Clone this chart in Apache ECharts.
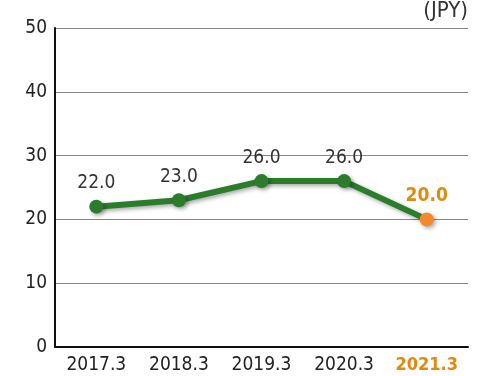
<!DOCTYPE html>
<html><head><meta charset="utf-8">
<script src="https://cdn.jsdelivr.net/npm/echarts@6/dist/echarts.min.js"></script>
<style>html,body{margin:0;padding:0;background:#fff}#c{width:480px;height:376px}</style>
</head><body><div id="c"></div>
<script>
const categories = ['2017.3','2018.3','2019.3','2020.3','2021.3'];
const values = [22.0, 23.0, 26.0, 26.0, 20.0];
const unitLabel = '(JPY)';
const FONT = "'DejaVu Sans Condensed', sans-serif";
const GREEN = '#2b7d2b', ORANGE = '#f5892d', ORANGE_TXT = '#e08a10';
const last = values.length - 1;
const chart = echarts.init(document.getElementById('c'));
chart.setOption({
  animation: false,
  grid: {left: 55, right: 12, top: 28, bottom: 29, containLabel: false},
  graphic: [{type: 'text', right: 12, top: 0, style: {text: unitLabel, font: '22px ' + FONT, fill: '#333'}}],
  xAxis: {
    type: 'category', data: categories, boundaryGap: true,
    axisLine: {lineStyle: {color: '#111', width: 2}},
    axisTick: {show: false},
    axisLabel: {interval: 0, margin: 9, fontSize: 19, fontFamily: FONT, color: '#222',
      formatter: (v, i) => i === last ? '{hl|' + v + '}' : v,
      rich: {hl: {color: ORANGE_TXT, fontWeight: 'bold', fontSize: 18, fontFamily: FONT}}}
  },
  yAxis: {
    type: 'value', min: 0, max: 50, interval: 10,
    axisLine: {show: true, lineStyle: {color: '#111', width: 2}},
    axisTick: {show: false},
    splitLine: {lineStyle: {color: '#888', width: 1}},
    axisLabel: {margin: 8, fontSize: 19, fontFamily: FONT, color: '#222'}
  },
  series: [{
    type: 'line', data: values.map((v, i) => i === last ? {value: v, itemStyle: {color: ORANGE}, label: {color: ORANGE_TXT, fontWeight: 'bold'}} : v),
    symbol: 'circle', symbolSize: 14,
    lineStyle: {color: GREEN, width: 6, shadowColor: 'rgba(0,0,0,0.35)', shadowBlur: 4, shadowOffsetX: 2, shadowOffsetY: 2},
    itemStyle: {color: GREEN, shadowColor: 'rgba(0,0,0,0.35)', shadowBlur: 4, shadowOffsetX: 2, shadowOffsetY: 2},
    label: {show: true, position: 'top', distance: 7, fontSize: 19, fontFamily: FONT, color: '#333', formatter: p => p.value.toFixed(1)}
  }]
});
</script></body></html>
